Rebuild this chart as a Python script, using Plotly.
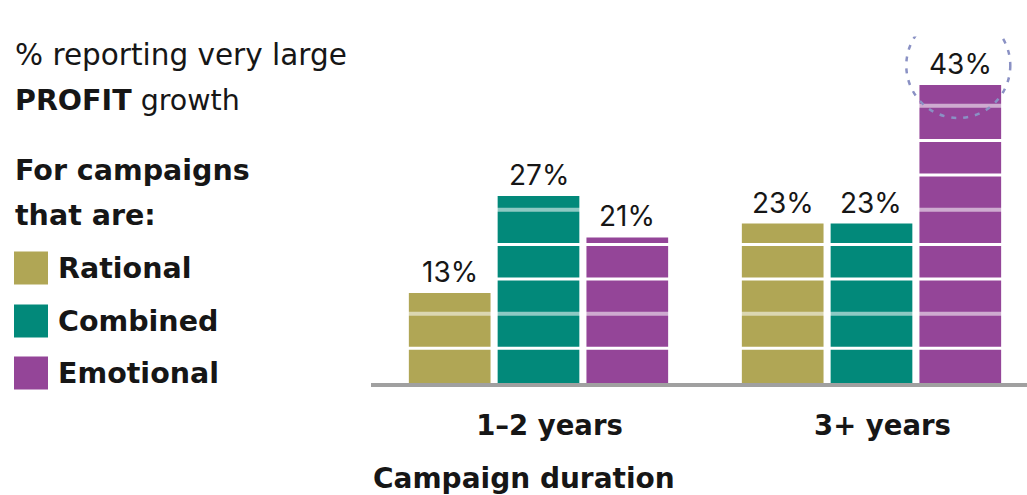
import plotly.graph_objects as go

# ---- data ----
durations = ["1–2 years", "3+ years"]
series_names = ["Rational", "Combined", "Emotional"]
rational = [13, 23]
combined = [27, 23]
emotional = [21, 43]
series_values = [rational, combined, emotional]
colors = ["#b0a655", "#02897a", "#944598"]
gridline_values = [5, 10, 15, 20, 25, 30, 35, 40]

W, H = 1027, 495
FONT = "DejaVu Sans"
NUM_FONT = "Inter"
TEXT = "#161616"
BARGAP = 0.2
BARGROUPGAP = 0.08


def px(x):
    return x / W


def py(y):
    return 1 - y / H


x_pos = list(range(len(durations)))
slot = (1 - BARGAP) / len(series_names)

fig = go.Figure()
for name, vals, col in zip(series_names, series_values, colors):
    fig.add_trace(go.Bar(
        x=x_pos, y=vals, name=name, marker=dict(color=col, line=dict(width=0)),
        showlegend=False, hoverinfo="skip",
    ))

annotations = []
shapes = []

# value labels above each bar
for k, vals in enumerate(series_values):
    for i, v in enumerate(vals):
        annotations.append(dict(
            x=i + (k - 1) * slot, y=v, xref="x", yref="y", text=f"{v}%",
            showarrow=False, yanchor="bottom", yshift=2,
            font=dict(family=NUM_FONT, size=28, color=TEXT),
        ))

# white rules across the bars
for g in gridline_values:
    faint = g in (10, 25, 40)
    shapes.append(dict(
        type="line", xref="paper", yref="y", x0=px(371), x1=1, y0=g, y1=g,
        line=dict(color="white", width=4 if faint else 3), opacity=0.55 if faint else 1,
        layer="above",
    ))

# dashed highlight around the largest value
top_k = max(range(3), key=lambda k: max(series_values[k]))
top_i = series_values[top_k].index(max(series_values[top_k]))
shapes.append(dict(
    type="circle", xref="x", yref="y", xsizemode="pixel", ysizemode="pixel",
    xanchor=top_i + (top_k - 1) * slot, yanchor=series_values[top_k][top_i],
    x0=-54, x1=50, y0=-33, y1=72,
    line=dict(color="#8a91c4", width=2.5, dash="5px,7px"), layer="above",
))


# heading and legend text
def left_text(text, ycenter, size=28.5, bold=False, x=13):
    annotations.append(dict(
        x=px(x), y=py(ycenter), xref="paper", yref="paper",
        text=f"<b>{text}</b>" if bold else text,
        showarrow=False, xanchor="left", yanchor="middle",
        font=dict(family=FONT, size=size, color=TEXT),
    ))


left_text("% reporting very large", 55, size=29.5)
left_text("<b>PROFIT</b> growth", 101)
left_text("For campaigns", 170, bold=True)
left_text("that are:", 216, bold=True)

legend_rows = [268, 321, 373]
for name, col, yc in zip(series_names, colors, legend_rows):
    shapes.append(dict(
        type="rect", xref="paper", yref="paper",
        x0=px(14), x1=px(48), y0=py(yc + 16.5), y1=py(yc - 16.5),
        fillcolor=col, line=dict(width=0),
    ))
    left_text(name, yc, bold=True, x=56)

# axis title
annotations.append(dict(
    x=px(371), y=py(478), xref="paper", yref="paper", text="<b>Campaign duration</b>",
    showarrow=False, xanchor="left", yanchor="middle",
    font=dict(family=FONT, size=28, color=TEXT),
))

fig.update_layout(
    width=W, height=H, margin=dict(l=0, r=0, t=0, b=0),
    paper_bgcolor="white", plot_bgcolor="white",
    barmode="group", bargap=BARGAP, bargroupgap=BARGROUPGAP,
    annotations=annotations, shapes=shapes,
    xaxis=dict(
        domain=[px(371), 1], range=[-0.503, 1.467],
        tickvals=x_pos, ticktext=[f"<b>{d}</b>" for d in durations],
        showgrid=False, zeroline=False,
        showline=True, linecolor="#a0a0a0", linewidth=4, ticks="",
        tickfont=dict(family=FONT, size=27.5, color=TEXT),
        ticklabelstandoff=15, ticklabelshift=11,
    ),
    yaxis=dict(
        domain=[py(383), py(36.5)], range=[0, 50], visible=False,
    ),
)

fig.write_html("out.html")
